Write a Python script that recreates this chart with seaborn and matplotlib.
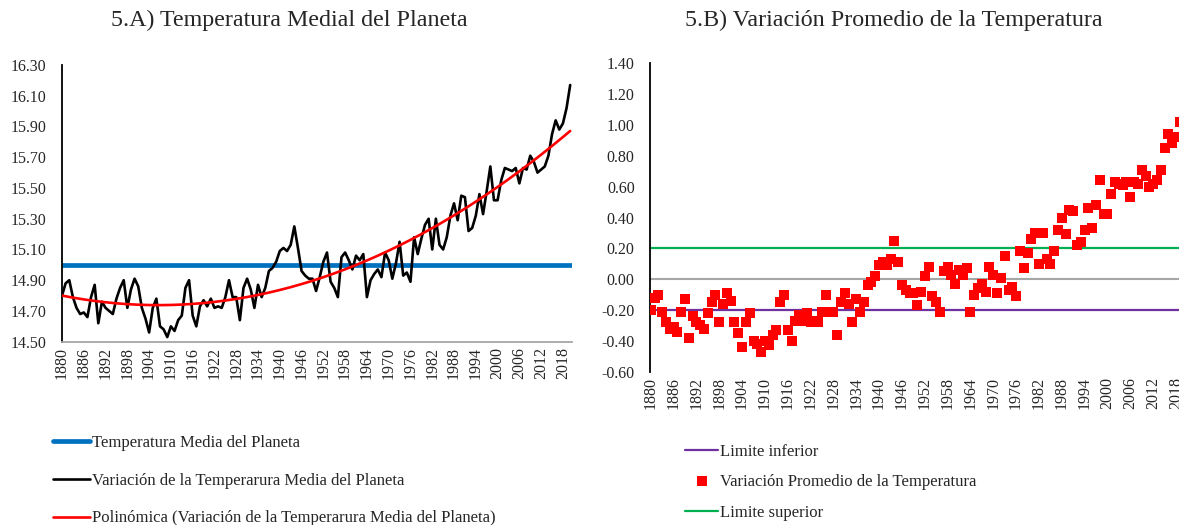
import numpy as np
import pandas as pd
import seaborn as sns
import matplotlib
matplotlib.use("Agg")
import matplotlib.pyplot as plt
from matplotlib.lines import Line2D

# Años (categorías) y variación de la temperatura
anios = list(range(1880, 2021))
variacion = [
    -0.20, -0.12, -0.10, -0.21, -0.28, -0.32, -0.31, -0.34, -0.21, -0.13,  # 1880
    -0.38, -0.24, -0.28, -0.30, -0.32, -0.22, -0.15, -0.10, -0.28, -0.16,  # 1890
    -0.09, -0.14, -0.28, -0.35, -0.44, -0.28, -0.22, -0.40, -0.42, -0.47,  # 1900
    -0.40, -0.43, -0.36, -0.33, -0.15, -0.10, -0.33, -0.40, -0.27, -0.23,  # 1910
    -0.27, -0.22, -0.28, -0.27, -0.28, -0.21, -0.10, -0.21, -0.21, -0.36,  # 1920
    -0.15, -0.09, -0.16, -0.28, -0.13, -0.21, -0.15, -0.04, -0.02, 0.02,   # 1930
    0.09, 0.11, 0.09, 0.13, 0.25, 0.11, -0.04, -0.07, -0.09, -0.09,        # 1940
    -0.17, -0.08, 0.02, 0.08, -0.11, -0.15, -0.21, 0.05, 0.08, 0.03,       # 1950
    -0.03, 0.06, 0.03, 0.07, -0.21, -0.10, -0.06, -0.03, -0.08, 0.08,      # 1960
    0.03, -0.09, 0.01, 0.15, -0.07, -0.05, -0.11, 0.18, 0.07, 0.17,        # 1970
    0.26, 0.30, 0.10, 0.30, 0.13, 0.10, 0.18, 0.32, 0.40, 0.29,            # 1980
    0.45, 0.44, 0.22, 0.24, 0.32, 0.46, 0.33, 0.48, 0.64, 0.42,            # 1990
    0.42, 0.55, 0.63, 0.62, 0.61, 0.63, 0.53, 0.63, 0.62, 0.71,            # 2000
    0.67, 0.60, 0.62, 0.64, 0.71, 0.85, 0.94, 0.88, 0.92, 1.02,            # 2010
    1.17,                                                                  # 2020
]
temp_media = 15.00
limite_inferior = -0.20
limite_superior = 0.20
ticks_anios = list(range(1880, 2019, 6))

df = pd.DataFrame({"anio": anios, "variacion": variacion})
df["temperatura"] = temp_media + df["variacion"]

# Línea de tendencia polinómica (orden 2), como la de Excel
coef = np.polyfit(df["anio"] - 1880, df["temperatura"], 2)
df["tendencia"] = np.polyval(coef, df["anio"] - 1880)

sns.set_style("white")
plt.rcParams["font.family"] = ["Liberation Serif", "DejaVu Serif"]

W, H = 1179, 525
fig = plt.figure(figsize=(W / 100, H / 100), dpi=100)
ax1 = fig.add_axes([62 / W, 1 - 341.7 / H, 510 / W, 276.7 / H])
# el panel derecho llega hasta el borde de la imagen (recortado como en el original)
ax2 = fig.add_axes([650 / W, 1 - 371.7 / H, 529 / W, 308.4 / H])

azul = "#0070C0"
verde = "#00B050"
morado = "#7030A0"
gris = "#A6A6A6"

# ---- 5.A ----
ax1.axhline(temp_media, color=azul, lw=3.4, zorder=1)
sns.lineplot(data=df, x="anio", y="temperatura", color="black", lw=1.9, ax=ax1, zorder=2)
sns.lineplot(data=df, x="anio", y="tendencia", color="red", lw=1.9, ax=ax1, zorder=3)
ax1.set_xlim(1880, 2020.5)
ax1.set_ylim(14.5, 16.3)
ax1.set_yticks(np.arange(14.5, 16.31, 0.2))
ax1.set_yticklabels([f"{v:.2f}" for v in np.arange(14.5, 16.31, 0.2)])

# ---- 5.B ----
ax2.axhline(0, color=gris, lw=1.5, zorder=1)
ax2.axhline(limite_inferior, color=morado, lw=1.6, zorder=2)
ax2.axhline(limite_superior, color=verde, lw=1.6, zorder=2)
sns.scatterplot(data=df, x="anio", y="variacion", marker="s", color="red",
                s=48, linewidth=0, ax=ax2, zorder=3)
ax2.set_xlim(1879.8, 2018.8)
ax2.set_ylim(-0.6, 1.4)
ax2.set_yticks(np.arange(-0.6, 1.41, 0.2))
ax2.set_yticklabels([f"{v:.2f}" for v in np.arange(-0.6, 1.41, 0.2)])

for ax in (ax1, ax2):
    ax.set_xticks(ticks_anios)
    ax.set_xticklabels([str(a) for a in ticks_anios], rotation=90)
    ax.set_xlabel("")
    ax.set_ylabel("")
    ax.tick_params(axis="both", length=0, labelsize=11.5)
    ax.tick_params(axis="y", pad=11)
    ax.tick_params(axis="x", pad=4)
    ax.spines["top"].set_visible(False)
    ax.spines["right"].set_visible(False)
    ax.spines["left"].set_color("black")
    ax.spines["left"].set_linewidth(1.3)
    if ax.get_legend():
        ax.get_legend().remove()

ax1.spines["bottom"].set_color(gris)
ax1.spines["bottom"].set_linewidth(1.3)
ax2.spines["bottom"].set_visible(False)

fig.text(289 / W, 1 - 20 / H, "5.A) Temperatura Medial del Planeta",
         ha="center", va="center", fontsize=17.3)
fig.text(894 / W, 1 - 20 / H, "5.B) Variación Promedio de la Temperatura",
         ha="center", va="center", fontsize=17.3)

# Leyendas
h1 = [Line2D([], [], color=azul, lw=3.4),
      Line2D([], [], color="black", lw=1.9),
      Line2D([], [], color="red", lw=1.9)]
l1 = ["Temperatura Media del Planeta",
      "Variación de la Temperarura Media del Planeta",
      "Polinómica (Variación de la Temperarura Media del Planeta)"]
fig.legend(h1, l1, loc="upper left", bbox_to_anchor=(53 / W, 1 - 435 / H),
           frameon=False, fontsize=12, handlelength=2.2, handletextpad=0.12,
           labelspacing=1.3, borderpad=0, borderaxespad=0)

h2 = [Line2D([], [], color=morado, lw=1.6),
      Line2D([], [], color="red", marker="s", ls="none", markersize=6.5, mew=0),
      Line2D([], [], color=verde, lw=1.6)]
l2 = ["Limite inferior", "Variación Promedio de la Temperatura", "Limite superior"]
fig.legend(h2, l2, loc="upper left", bbox_to_anchor=(685 / W, 1 - 444 / H),
           frameon=False, fontsize=12, handlelength=2.0, handletextpad=0.12,
           labelspacing=0.86, borderpad=0, borderaxespad=0)

fig.savefig("out.png", dpi=100)
